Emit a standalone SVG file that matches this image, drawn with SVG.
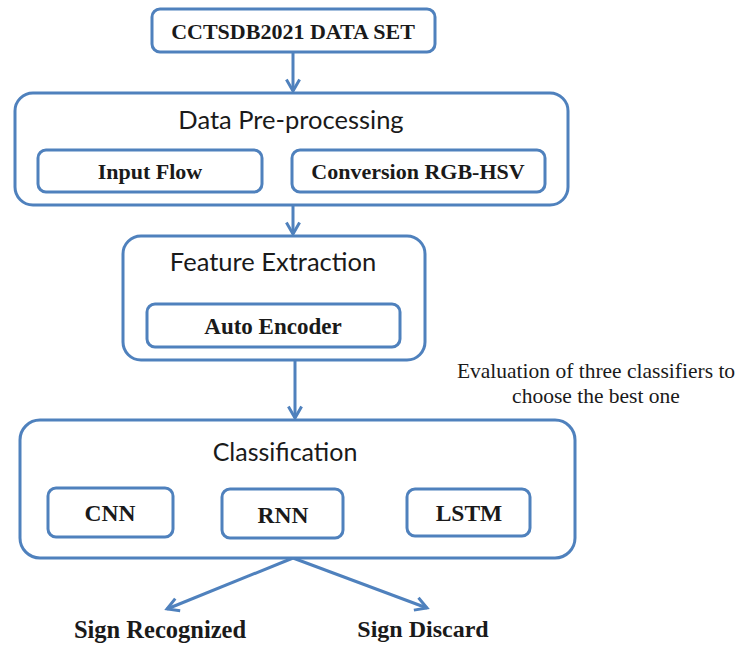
<svg xmlns="http://www.w3.org/2000/svg" width="741" height="647" viewBox="0 0 741 647">
<defs>
<style>
.box{fill:#fff;stroke:#4f81bd;stroke-width:3}
.b{font-family:"Liberation Serif",serif;font-weight:bold;font-size:22px;fill:#1a1a1a;text-anchor:middle}
.t{font-family:Lato,"Liberation Sans",sans-serif;font-size:25.5px;fill:#1a1a1a;text-anchor:middle}
.n{font-family:"Liberation Serif",serif;font-size:21.5px;fill:#1a1a1a;text-anchor:middle}
.c{fill:none;stroke:#4f81bd;stroke-width:3}
</style>
<marker id="ah" viewBox="0 0 10 10" refX="8" refY="5" markerWidth="5.5" markerHeight="5.5" orient="auto" markerUnits="strokeWidth">
<path d="M1,1 L8,5 L1,9" fill="none" stroke="#4f81bd" stroke-width="1.8"/>
</marker>
</defs>
<rect width="741" height="647" fill="#fff"/>
<g id="connectors">
<line class="c" x1="293" y1="52" x2="293" y2="91" marker-end="url(#ah)"/>
<line class="c" x1="293" y1="205" x2="293" y2="234" marker-end="url(#ah)"/>
<line class="c" x1="295" y1="360" x2="295" y2="418" marker-end="url(#ah)"/>
<line class="c" x1="293" y1="558" x2="167" y2="609" marker-end="url(#ah)"/>
<line class="c" x1="293" y1="558" x2="427" y2="608" marker-end="url(#ah)"/>
</g>
<g id="dataset">
<rect class="box" x="152" y="9" width="283" height="43" rx="8"/>
<text class="b" x="293" y="39">CCTSDB2021 DATA SET</text>
</g>
<g id="preprocessing">
<rect class="box" x="15" y="93" width="553" height="112" rx="18"/>
<text class="t" x="291" y="129">Data Pre-processing</text>
</g>
<g id="inputflow">
<rect class="box" x="38" y="150" width="224" height="42" rx="8"/>
<text class="b" x="150" y="179">Input Flow</text>
</g>
<g id="conversion">
<rect class="box" x="292" y="150" width="253" height="42" rx="8"/>
<text class="b" x="418" y="179">Conversion RGB-HSV</text>
</g>
<g id="feature">
<rect class="box" x="123" y="236" width="302" height="124" rx="18"/>
<text class="t" x="273" y="271">Feature Extraction</text>
</g>
<g id="autoencoder">
<rect class="box" x="147" y="304" width="253" height="43" rx="8"/>
<text class="b" x="273" y="334" style="font-size:23px">Auto Encoder</text>
</g>
<g id="note">
<text class="n" x="596" y="378">Evaluation of three classifiers to</text>
<text class="n" x="596" y="403">choose the best one</text>
</g>
<g id="classification">
<rect class="box" x="20" y="420" width="555" height="138" rx="20"/>
<text class="t" x="285" y="461" style="font-size:25px">Classification</text>
</g>
<g id="cnn">
<rect class="box" x="48" y="488" width="125" height="49" rx="8"/>
<text class="b" x="110" y="521" style="font-size:23.5px">CNN</text>
</g>
<g id="rnn">
<rect class="box" x="222" y="489" width="121" height="49" rx="8"/>
<text class="b" x="283" y="523" style="font-size:23.5px">RNN</text>
</g>
<g id="lstm">
<rect class="box" x="407" y="489" width="123" height="47" rx="8"/>
<text class="b" x="469" y="521" style="font-size:23.5px">LSTM</text>
</g>
<g id="recognized">
<text class="b" x="160" y="638" style="font-size:24.5px">Sign Recognized</text>
</g>
<g id="discard">
<text class="b" x="423" y="637" style="font-size:24px">Sign Discard</text>
</g>
</svg>
